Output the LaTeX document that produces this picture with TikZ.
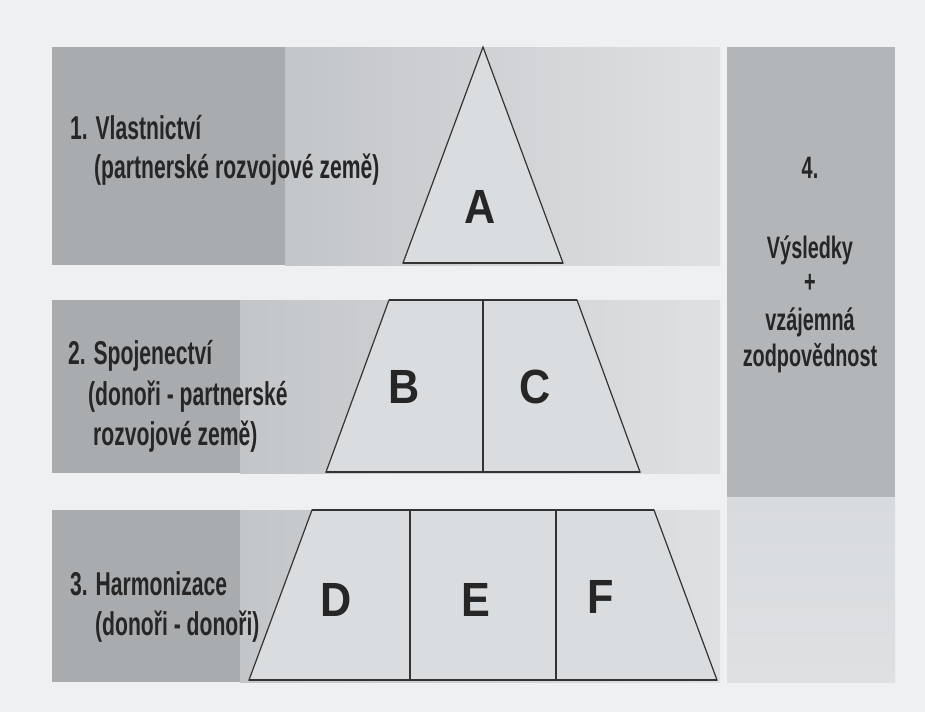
\documentclass[tikz,border=0pt]{standalone}
\usepackage{fontspec}
\newfontfamily\labfont[FakeStretch=0.64]{Liberation Sans}
\newfontfamily\letfont[FakeStretch=0.9]{Liberation Sans}
\definecolor{bgc}{HTML}{EEF0F2}
\definecolor{banddark}{HTML}{A9ACAF}
\definecolor{bandmid}{HTML}{C3C6C9}
\definecolor{bandlight}{HTML}{DEE0E2}
\definecolor{piecefill}{HTML}{DADDDF}
\definecolor{paneltop}{HTML}{B3B6B9}
\definecolor{panelbot}{HTML}{D8DBDE}
\definecolor{txt}{HTML}{262626}
\definecolor{edge}{HTML}{333333}
\begin{document}
\begin{tikzpicture}[x=1pt,y=-1pt,
  piece/.style={fill=piecefill,draw=edge,line width=1.2pt,line join=miter},
  thickedge/.style={draw=edge,line width=2.2pt},
  lab/.style={anchor=base west,inner sep=0pt,text=txt,font=\labfont\bfseries\fontsize{33}{33}\selectfont},
  rlab/.style={anchor=base,inner sep=0pt,text=txt,font=\labfont\bfseries\fontsize{31}{31}\selectfont},
  letter/.style={inner sep=0pt,text=txt,font=\letfont\bfseries\fontsize{48}{48}\selectfont}]
\useasboundingbox (0,0) rectangle (925,712);
\fill[bgc] (0,0) rectangle (925,712);
% bands
\fill[banddark] (52,47) rectangle (285,265);
\shade[left color=bandmid,right color=bandlight] (285,47) rectangle (720,265);
\fill[banddark] (52,300) rectangle (240,473);
\shade[left color=bandmid,right color=bandlight] (240,300) rectangle (720,473);
\fill[banddark] (52,510) rectangle (240,682);
\shade[left color=bandmid,right color=bandlight] (240,510) rectangle (720,682);
% right panel
\fill[paneltop] (727,47) rectangle (895,497);
\shade[top color=panelbot,bottom color=bandlight] (727,497) rectangle (895,682);
% pyramid level 1
\draw[piece] (483,47) -- (563,263) -- (403,263) -- cycle;
\draw[thickedge] (403,263) -- (563,263);
% level 2
\draw[piece] (389,300) -- (577,300) -- (640,472) -- (326,472) -- cycle;
\draw[thickedge] (389,300) -- (577,300) (326,472) -- (640,472);
\draw[draw=edge,line width=1.2pt] (483,300) -- (483,472);
% level 3
\draw[piece] (312,510) -- (654,510) -- (717,680) -- (249,680) -- cycle;
\draw[thickedge] (312,510) -- (654,510) (249,680) -- (717,680);
\draw[draw=edge,line width=1.2pt] (410,510) -- (410,680) (556,510) -- (556,680);
% letters
\node[letter] (A) at (480,207) {A};
\node[letter] (B) at (404,387) {B};
\node[letter] (C) at (535,387) {C};
\node[letter] (D) at (336,600) {D};
\node[letter] (E) at (476,600) {E};
\node[letter] (F) at (601,597) {F};
% left labels
\node[lab] (l1a) at (70,139) {1. Vlastnictví};
\node[lab] (l1b) at (94,178) {(partnerské rozvojové země)};
\node[lab] (l2a) at (68,364) {2. Spojenectví};
\node[lab] (l2b) at (88,405) {(donoři - partnerské};
\node[lab] (l2c) at (93,445) {rozvojové země)};
\node[lab] (l3a) at (70,595) {3. Harmonizace};
\node[lab] (l3b) at (95,635) {(donoři - donoři)};
% right panel labels
\node[rlab] (r1) at (810,178) {4.};
\node[rlab] (r2) at (810,258) {Výsledky};
\node[rlab] (r3) at (810,292) {+};
\node[rlab] (r4) at (810,330) {vzájemná};
\node[rlab] (r5) at (810,366) {zodpovědnost};
\end{tikzpicture}
\end{document}
